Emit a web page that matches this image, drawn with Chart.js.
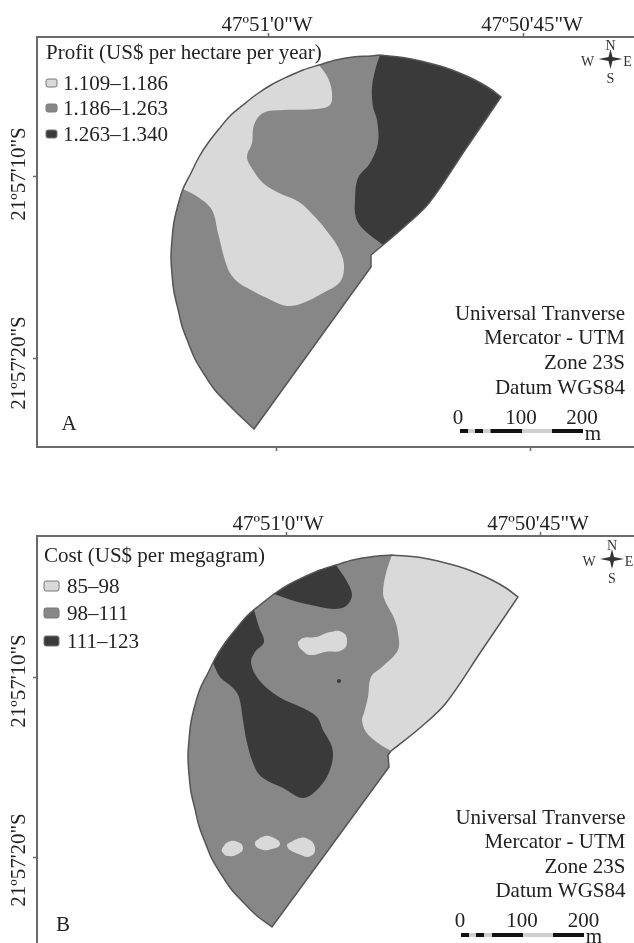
<!DOCTYPE html>
<html>
<head>
<meta charset="utf-8">
<style>
  html, body { margin: 0; padding: 0; background: #fff; overflow: hidden; }
  canvas { position: absolute; left: 0; }
</style>
<script src="https://cdn.jsdelivr.net/npm/chart.js@4/dist/chart.umd.min.js"></script>
</head>
<body>
<canvas id="panelA" width="634" height="470" style="top:0"></canvas>
<canvas id="panelB" width="634" height="444" style="top:499px"></canvas>
<script>
// classes
const profitTitle = 'Profit (US$ per hectare per year)';
const profitClasses = ['1.109–1.186', '1.186–1.263', '1.263–1.340'];
const costTitle = 'Cost (US$ per megagram)';
const costClasses = ['85–98', '98–111', '111–123'];
const lonLabels = ['47º51\'0"W', '47º50\'45"W'];
const latLabels = ['21º57\'10"S', '21º57\'20"S'];
const utmLines = ['Universal Tranverse', 'Mercator - UTM', 'Zone 23S', 'Datum WGS84'];
const scaleLabels = ['0', '100', '200'];

// panel A, map units. a point listed twice keeps its corner sharp
const fieldA = [[380,55],[406,58],[440,66],[457,72],[473,79],[489,88],[501,97],[501,97],[465,150],[429,203],[404,227],
  [383,245],[383,245],[371,255],[371,255],[371,267],[371,267],[254,429],[254,429],[239,415],[226,402],[214,389],[204,374],
  [195,359],[188,342],[182,326],[178,309],[174,292],[172,274],[171,257],[172,240],[174,222],[178,205],[183,189],[191,173],
  [199,157],[208,143],[219,129],[230,116],[243,105],[257,94],[271,85],[287,77],[303,70],[319,65],[336,60],[353,57],[371,56],[380,55]];
const lightA = [[319,65],[319,65],[328,78],[332,93],[330,105],[317,109],[283,110],[263,113],[254,125],[252,143],[247,157],
  [253,170],[263,183],[279,193],[299,202],[315,217],[326,230],[338,247],[344,265],[340,282],[323,293],[303,303],
  [287,306],[271,300],[251,290],[239,283],[230,273],[224,257],[218,233],[212,210],[198,197],[183,189],[183,189],[191,173],
  [199,157],[208,143],[219,129],[230,116],[243,105],[257,94],[271,85],[287,77],[303,70],[319,65]];
const darkA = [[380,55],[380,55],[406,58],[440,66],[457,72],[473,79],[489,88],[501,97],[501,97],[465,150],[429,203],[404,227],
  [383,245],[383,245],[364,230],[356,218],[355,200],[358,178],[370,163],[378,143],[377,120],[373,107],[372,87],[376,67],[380,55]];

// panel B
const fieldB = [[392,555],[423,558],[457,566],[474,572],[490,579],[506,588],[518,597],[518,597],[482,650],[446,703],[421,727],
  [391,751],[391,751],[388,755],[388,755],[389,767],[389,767],[272,927],[272,927],[256,915],[243,902],[231,889],[221,874],[212,859],
  [205,842],[199,826],[195,809],[191,792],[189,774],[188,757],[189,740],[191,722],[195,705],[200,689],[208,673],[216,657],
  [225,643],[236,629],[247,616],[260,605],[274,594],[288,585],[304,577],[320,570],[336,565],[353,560],[370,557],[392,555]];
const lightB = [[392,555],[392,555],[423,558],[457,566],[474,572],[490,579],[506,588],[518,597],[518,597],[482,650],[446,703],[421,727],
  [391,751],[391,751],[378,743],[366,732],[362,720],[364,713],[368,697],[371,677],[382,667],[398,650],[398,633],[394,618],
  [386,603],[383,593],[386,573],[392,555]];
const darkTopB = [[336,565],[336,565],[346,580],[352,595],[346,606],[334,609],[311,605],[291,600],[274,594],[274,594],[288,585],[304,577],[320,570],[336,565]];
const darkMidB = [[254,610],[254,610],[259,627],[264,642],[255,652],[251,663],[259,680],[279,697],[303,708],[317,717],[323,730],
  [332,747],[332,763],[323,783],[304,798],[283,788],[263,778],[255,768],[247,743],[243,720],[239,697],[233,688],
  [220,677],[213,663],[213,663],[216,657],[225,643],[236,629],[247,616],[254,610]];
// blobs run past their start so the join stays round
const blobB1 = [[298,643],[303,638],[316,637],[330,632],[342,632],[347,641],[342,650],[325,652],[311,655],[303,651],[298,643],[303,638]];
const blobB2 = [[222,849],[228,842],[238,842],[243,848],[238,854],[228,856],[223,853],[222,849],[228,842]];
const blobB3 = [[255,843],[262,837],[272,837],[280,844],[272,849],[260,849],[255,843],[262,837]];
const blobB4 = [[287,846],[297,839],[308,839],[315,848],[311,856],[301,855],[287,846],[297,839]];
const wellB = [[339,681]];

const LIGHT = '#d9d9d9', MID = '#878787', DARK = '#3a3a3a', EDGE = '#555555', FRAME = '#6a6a6a';
const SERIF = '"Liberation Serif", serif';

const toPts = list => list.map(p => ({ x: p[0], y: p[1] }));

function region(label, list, color, order, tension) {
  return { label, data: toPts(list), showLine: true, fill: 'shape', backgroundColor: color,
    borderColor: color, borderWidth: 0, pointRadius: 0, tension: tension || 0.35, order };
}

function outline(list) {
  return { label: 'outline', data: toPts(list), showLine: true, fill: false, borderColor: EDGE,
    borderWidth: 1.5, pointRadius: 0, tension: 0.35, order: 1 };
}

// legend, north arrow, utm note and scale bar sit inside the frame
const mapNotes = {
  id: 'mapNotes',
  afterDraw(chart, args, o) {
    const { ctx, scales } = chart;
    const px = v => scales.x.getPixelForValue(v);
    const py = v => scales.y.getPixelForValue(v);
    ctx.save();
    ctx.fillStyle = '#222';
    ctx.textBaseline = 'middle';

    const text = (s, x, y, size, align) => {
      ctx.font = size + 'px ' + SERIF;
      ctx.textAlign = align || 'left';
      ctx.fillText(s, px(x), py(y) + 1);
    };

    text(o.title, o.titleX, o.titleY, 21);
    o.classes.forEach((c, i) => {
      ctx.beginPath();
      ctx.roundRect(px(o.swatchX), py(o.classY[i]) - o.swatchH / 2, o.swatchW, o.swatchH, 2);
      ctx.fillStyle = [LIGHT, MID, DARK][i];
      ctx.fill();
      ctx.strokeStyle = '#777';
      ctx.lineWidth = 1;
      ctx.stroke();
      ctx.fillStyle = '#222';
      text(c, o.classX, o.classY[i], 21);
    });

    utmLines.forEach((l, i) => text(l, o.utmX, o.utmY[i], 21, 'right'));
    scaleLabels.forEach((l, i) => text(l, o.scaleLabelX[i], o.scaleLabelY, 21, 'center'));
    text('m', o.mX, o.mY, 21, 'center');
    text(o.letter, o.letterX, o.letterY, 21, 'center');

    // scale bar
    for (let i = 0; i < o.scaleStops.length - 1; i++) {
      ctx.fillStyle = i % 2 ? '#cfcfcf' : '#111';
      ctx.fillRect(px(o.scaleStops[i]), py(o.scaleY) - 2, px(o.scaleStops[i + 1]) - px(o.scaleStops[i]), 4);
    }

    // north arrow
    const cx = px(o.star[0]), cy = py(o.star[1]);
    ctx.fillStyle = '#333';
    ctx.beginPath();
    ctx.moveTo(cx - 12, cy);
    ctx.lineTo(cx - 2, cy - 2);
    ctx.lineTo(cx, cy - 10);
    ctx.lineTo(cx + 2, cy - 2);
    ctx.lineTo(cx + 12, cy);
    ctx.lineTo(cx + 2, cy + 2);
    ctx.lineTo(cx, cy + 10);
    ctx.lineTo(cx - 2, cy + 2);
    ctx.closePath();
    ctx.fill();
    text('N', o.star[0], o.star[1] - 14, 14, 'center');
    text('S', o.star[0], o.star[1] + 19, 14, 'center');
    text('W', o.star[0] - 23, o.star[1] + 2, 14, 'center');
    text('E', o.star[0] + 17, o.star[1] + 2, 14, 'center');
    ctx.restore();
  }
};

function makePanel(id, p) {
  const scales = {
    x: {
      type: 'linear', position: 'top', min: 37, max: 634, weight: 1,
      afterBuildTicks: s => { s.ticks = p.topTicks.map(value => ({ value })); },
      afterFit: s => { s.height = 4; },
      ticks: { display: false, autoSkip: false },
      grid: { drawOnChartArea: false, tickLength: 4, tickColor: FRAME, tickWidth: 1.5 },
      border: { display: true, color: FRAME, width: 2 }
    },
    xLabel: {
      type: 'linear', axis: 'x', position: 'top', min: 37, max: 634, weight: 2,
      afterBuildTicks: s => { s.ticks = p.labelTicks.map(value => ({ value })); },
      afterFit: s => { s.height = 33; },
      ticks: { autoSkip: false, maxRotation: 0, padding: -13, color: '#222', font: { family: SERIF, size: 21 },
        callback: v => lonLabels[p.labelTicks.indexOf(v)] },
      grid: { display: false },
      border: { display: false }
    },
    y: {
      type: 'linear', position: 'left', min: p.yMin, max: p.yMax, reverse: true, weight: 1,
      afterBuildTicks: s => { s.ticks = p.leftTicks.map(value => ({ value })); },
      afterFit: s => { s.width = 4; },
      ticks: { display: false, autoSkip: false },
      grid: { drawOnChartArea: false, tickLength: 4, tickColor: FRAME, tickWidth: 1.5 },
      border: { display: true, color: FRAME, width: 2 }
    },
    yLabel: {
      type: 'linear', axis: 'y', position: 'left', min: p.yMin, max: p.yMax, reverse: true, weight: 2,
      afterBuildTicks: s => { s.ticks = p.leftLabelTicks.map(value => ({ value })); },
      afterFit: s => { s.width = 33; },
      ticks: { autoSkip: false, minRotation: 90, maxRotation: 90, crossAlign: 'center', padding: -41, color: '#222',
        font: { family: SERIF, size: 21 },
        callback: v => latLabels[p.leftLabelTicks.indexOf(v)] },
      grid: { display: false },
      border: { display: false }
    }
  };
  if (p.bottomTicks) {
    scales.xBottom = {
      type: 'linear', axis: 'x', position: 'bottom', min: 37, max: 634,
      afterBuildTicks: s => { s.ticks = p.bottomTicks.map(value => ({ value })); },
      afterFit: s => { s.height = 23; },
      ticks: { display: false, autoSkip: false },
      grid: { drawOnChartArea: false, tickLength: 4, tickColor: FRAME, tickWidth: 1.5 },
      border: { display: true, color: FRAME, width: 2 }
    };
  }
  return new Chart(document.getElementById(id), {
    type: 'scatter',
    data: { datasets: p.datasets },
    options: {
      responsive: false,
      maintainAspectRatio: false,
      animation: false,
      layout: { padding: 0, autoPadding: false },
      scales,
      plugins: { legend: { display: false }, tooltip: { enabled: false }, mapNotes: p.notes }
    },
    plugins: [mapNotes]
  });
}

makePanel('panelA', {
  yMin: 37, yMax: 447,
  topTicks: [268.5, 523], labelTicks: [267, 532], bottomTicks: [276, 530.5], leftTicks: [176, 358], leftLabelTicks: [174, 363],
  datasets: [
    outline(fieldA),
    region(profitClasses[2], darkA, DARK, 2),
    region(profitClasses[0], lightA, LIGHT, 3),
    region(profitClasses[1], fieldA, MID, 4)
  ],
  notes: {
    title: profitTitle, titleX: 46, titleY: 52, classes: profitClasses, classY: [83, 108, 134],
    swatchX: 46, swatchW: 11, swatchH: 8, classX: 63,
    utmX: 625, utmY: [313, 337, 362, 387],
    scaleLabelX: [458, 521, 582], scaleLabelY: 417, scaleStops: [460, 468, 475, 483, 490.5, 522, 552, 583], scaleY: 431,
    mX: 593, mY: 433, letter: 'A', letterX: 69, letterY: 423, star: [610.5, 59]
  }
});

makePanel('panelB', {
  yMin: 536, yMax: 943,
  topTicks: [286, 540], labelTicks: [278, 538], leftTicks: [677, 857], leftLabelTicks: [681, 860],
  datasets: [
    { label: 'well', data: toPts(wellB), pointRadius: 2, pointBackgroundColor: DARK, pointBorderWidth: 0, order: 0 },
    outline(fieldB),
    region(costClasses[0], blobB1, LIGHT, 2, 0.5),
    region(costClasses[0], blobB2, LIGHT, 2, 0.5),
    region(costClasses[0], blobB3, LIGHT, 2, 0.5),
    region(costClasses[0], blobB4, LIGHT, 2, 0.5),
    region(costClasses[2], darkTopB, DARK, 3),
    region(costClasses[2], darkMidB, DARK, 3),
    region(costClasses[0], lightB, LIGHT, 3),
    region(costClasses[1], fieldB, MID, 4)
  ],
  notes: {
    title: costTitle, titleX: 44, titleY: 555, classes: costClasses, classY: [586, 613, 641],
    swatchX: 44, swatchW: 15, swatchH: 10, classX: 67,
    utmX: 625.5, utmY: [817, 841, 866, 890],
    scaleLabelX: [460, 522, 583.5], scaleLabelY: 920, scaleStops: [461, 469, 476, 484, 492, 523, 553, 584], scaleY: 935,
    mX: 594, mY: 936, letter: 'B', letterX: 63, letterY: 924, star: [612, 559]
  }
});
</script>
</body>
</html>
